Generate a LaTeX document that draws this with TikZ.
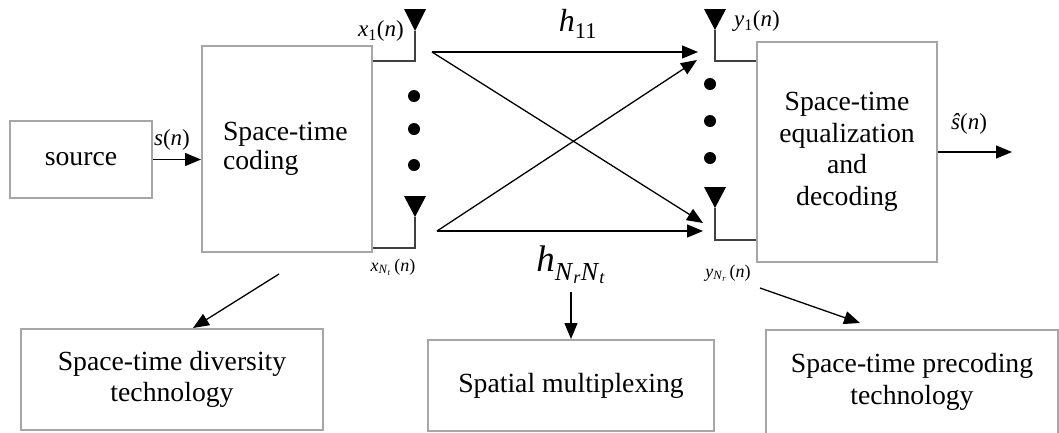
\documentclass[tikz,border=0pt]{standalone}
\usepackage{fontspec}
\setmainfont{Liberation Serif}
\usetikzlibrary{arrows.meta}
\definecolor{boxgray}{HTML}{A6A6A6}
\definecolor{stemgray}{HTML}{404040}
\newcommand\vi[1]{\textit{#1}}
\begin{document}
\begin{tikzpicture}[x=1pt,y=-1pt,
  box/.style={draw=boxgray,line width=2pt,inner sep=0pt,font=\fontsize{27.7}{31.5}\selectfont,align=center},
  arr/.style={line width=1.3pt,-{Triangle[length=16pt,width=13pt]}},
  stem/.style={draw=stemgray,line width=2pt},
  lab/.style={inner sep=0pt,font=\fontsize{23}{23}\selectfont},
  slab/.style={inner sep=0pt,font=\fontsize{18}{18}\selectfont},
  dot/.style={fill=black},
  ant/.style={fill=black}
]
\useasboundingbox (0,0) rectangle (1059,432);

% boxes
\node[box,minimum width=142pt,minimum height=77pt] (src) at (81,159.5) {source};
\node[box,minimum width=170pt,minimum height=206pt,text width=128pt,align=left,font=\fontsize{27.7}{29}\selectfont] (stc) at (287,149) {Space-time\\coding};
\node[box,minimum width=180pt,minimum height=220pt] (eq) at (847,152) {Space-time\\equalization\\and\\decoding};
\node[box,minimum width=302pt,minimum height=101pt] (div) at (172,379.5) {Space-time diversity\\technology};
\node[box,minimum width=286pt,minimum height=91pt] (sm) at (571,385.5) {Spatial multiplexing};
\node[box,minimum width=292pt,minimum height=104pt] (pre) at (912,382) {Space-time precoding\\technology};

% antenna coordinates
\coordinate (a1) at (415,61);  \coordinate (a1t) at (415,31);
\coordinate (a2) at (415,248); \coordinate (a2t) at (415,217);
\coordinate (b1) at (715,61);  \coordinate (b1t) at (715,30);
\coordinate (b2) at (715,240); \coordinate (b2t) at (715,208);

% stems
\draw[stem] (stc.east |- a1) -- (a1) -- (a1t);
\draw[stem] (stc.east |- a2) -- (a2) -- (a2t);
\draw[stem] (eq.west |- b1) -- (b1) -- (b1t);
\draw[stem] (eq.west |- b2) -- (b2) -- (b2t);

% antenna heads
\fill[ant] (404,9) -- (426,9) -- (a1t) -- cycle;
\fill[ant] (404,196) -- (426,196) -- (a2t) -- cycle;
\fill[ant] (704,9) -- (726,9) -- (b1t) -- cycle;
\fill[ant] (704,187) -- (726,187) -- (b2t) -- cycle;

% dots
\fill[dot] (414,96) circle (6pt);
\fill[dot] (414,129) circle (6pt);
\fill[dot] (414,165) circle (6pt);
\fill[dot] (710,84) circle (6pt);
\fill[dot] (710,121) circle (6pt);
\fill[dot] (710,158) circle (6pt);

% channel
\coordinate (t1) at (432,52);
\coordinate (t2) at (437,231);
\coordinate (r1) at (698,52);
\coordinate (r1b) at (697,60);
\coordinate (r2) at (703,223);
\coordinate (r2b) at (703,231);
\draw[arr] (t1) -- (r1);
\draw[arr] (t1) -- (r2);
\draw[arr] (t2) -- (r1b);
\draw[arr] (t2) -- (r2b);

% labels
\node[lab] (sn) at (172,140) {\vi{s}(\vi{n})};
\node[lab] (x1) at (381,31) {\vi{x}\textsubscript{1}(\vi{n})};
\node[slab] (xN) at (393,267) {\vi{x}\textsubscript{\vi{N}\textsubscript{\vi{t}}}\,(\vi{n})};
\node[lab] (y1) at (757,21) {\vi{y}\textsubscript{1}(\vi{n})};
\node[slab] (yN) at (728,273) {\vi{y}\textsubscript{\vi{N}\textsubscript{\vi{r}}}\,(\vi{n})};
\node[inner sep=0pt,font=\fontsize{32}{32}\selectfont] (h11) at (578,24) {\vi{h}\textsubscript{11}};
\node[inner sep=0pt,font=\fontsize{37}{37}\selectfont] (hN) at (571,265) {\vi{h}\textsubscript{\vi{N}\textsubscript{\vi{r}}\vi{N}\textsubscript{\vi{t}}}};
\node[lab] (shat) at (969,124) {\vi{ŝ}(\vi{n})};

% other arrows
\coordinate (out) at (1012,152);
\draw[arr] (src.east) -- (stc.west |- src.east);
\draw[arr] (eq.east |- out) -- (out);
\coordinate (hNa) at (571,292);
\draw[arr] (hNa) -- (sm.north -| hNa);
\coordinate (dvt) at (279,274);
\coordinate (dvh) at (193,328);
\draw[arr] (dvt) -- (dvh);
\coordinate (prt) at (760,288);
\coordinate (prh) at (860,323);
\draw[arr] (prt) -- (prh);
\end{tikzpicture}
\end{document}
